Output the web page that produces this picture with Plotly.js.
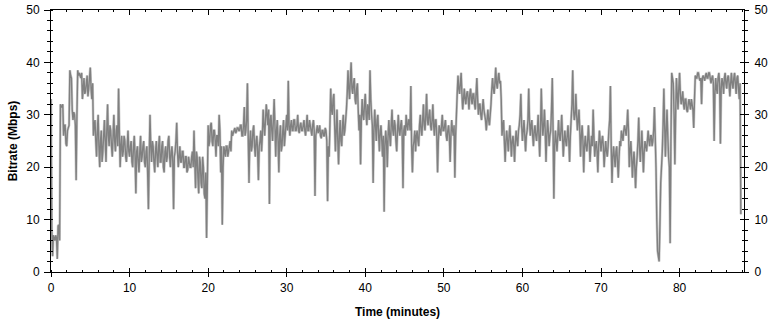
<!DOCTYPE html>
<html>
<head>
<meta charset="utf-8">
<script src="https://cdn.plot.ly/plotly-3.0.1.min.js"></script>
<style>html,body{margin:0;padding:0;background:#fff;}#chart{width:773px;height:320px;}</style>
</head>
<body>
<div id="chart"></div>
<script>
// Sampling interval of the series (minutes)
const sampleStepMin = 0.1;

// Bitrate readings (Mbps), one every 0.1 minute (one line per minute)
const bitrateMbps = [
  33, 8, 3, 7, 6.5, 6, 7, 6.5, 2.5, 8.8,
  9, 6, 32, 31.5, 31.5, 32, 26, 28, 28, 24.5,
  24, 27, 27.5, 28, 38.5, 37.5, 37, 31, 29, 30.5,
  30, 28, 17.5, 30, 38.5, 37.5, 38, 37.5, 37, 38,
  33, 35, 37, 34, 34.5, 36, 37.5, 33.5, 35, 37,
  39, 35, 33, 36, 26, 28, 29, 25, 22, 27,
  30, 24, 20, 25, 27, 21, 23, 26, 29, 25,
  21, 27, 32, 26, 24, 28, 27, 24, 22, 26,
  30, 25, 23, 27, 28, 24, 35, 27, 20, 24,
  26, 22, 23, 26, 25, 22, 21, 24, 27, 23,
  22, 24, 25, 21, 20, 24, 26, 22, 15, 23,
  24, 21, 19, 23, 26, 21, 22, 24, 25, 21,
  20, 23, 24, 19, 12, 22, 30, 24, 21, 25,
  24, 21, 19, 23, 25, 22, 20, 24, 26, 21,
  21, 24, 25, 20, 19, 23, 24, 21, 22, 25,
  26, 22, 20, 23, 24, 21, 12, 22, 23, 25,
  28.5, 23, 20, 22, 24, 21, 21, 23, 23, 20,
  20, 22, 22, 19, 19.5, 22, 21, 20, 20, 22,
  23, 20, 27, 21, 16, 23, 22, 18, 15, 22,
  21, 17, 16, 22, 20, 15, 14, 19, 6.5, 17,
  28, 24, 25, 28, 28.5, 25, 24, 27, 27, 25,
  22, 26, 26, 24, 30, 27, 19, 24, 9, 20,
  24, 23, 22, 24, 24, 22, 23, 24, 25, 23,
  27, 26, 26.5, 27, 27.5, 26.5, 26.8, 27.5, 27.5, 27,
  27, 28, 28, 26, 26, 28, 31.5, 26, 27, 29,
  36, 26, 17, 25, 27, 23, 24, 27, 28, 24,
  22, 25, 26, 23, 17.5, 24, 25, 27, 23, 26,
  31, 28, 26, 29, 32, 30, 28, 31, 13, 29,
  30, 27, 25, 29, 33, 28, 22, 27, 29, 25,
  19, 26, 28, 23, 24, 27, 29, 24, 26, 28,
  30, 27, 36.5, 28, 26, 28, 29, 27, 27, 29,
  29, 27, 27, 28, 30, 27, 26.5, 28, 28.5, 27,
  27, 28, 29, 27, 26, 28, 30, 27, 27, 29,
  28, 27, 26, 28, 29, 27, 14.5, 26, 27, 28,
  26.5, 27, 28, 26, 25.5, 27, 27, 26, 26, 27.5,
  27, 25, 13.5, 24, 22, 28, 35, 31, 30, 33,
  34, 28, 23, 27, 31, 25, 20.5, 26, 29, 25,
  24, 28, 30, 26, 27, 29, 31, 34, 38.5, 35,
  33, 37, 40, 35, 34, 36, 37, 33, 32, 35,
  36, 31, 27, 30, 20.5, 29, 33, 30, 29, 32,
  34, 30, 28, 32, 31, 29, 38.5, 33, 30, 28,
  17, 27, 31, 28, 25, 29, 30, 26, 23, 27,
  28, 25, 22, 26, 11.5, 24, 27, 25, 20, 26,
  29, 26, 24, 28, 31, 27, 26, 29, 28, 25,
  23, 27, 30, 27, 26, 28, 29, 26, 16, 27,
  28, 26, 30, 28, 27, 29, 29, 27, 35.5, 24,
  19, 24, 25, 27, 23, 26, 27, 25, 24, 28,
  30, 27, 26, 29, 32, 28, 27, 30, 34, 29,
  28, 30, 31, 28, 27, 29, 32, 28, 26, 29,
  29, 26, 19, 25, 28, 27, 26, 28, 30, 27,
  27, 28, 29, 26, 25, 27, 28, 26, 21, 26,
  29, 27, 26, 28, 18, 26, 30, 34, 37.5, 35,
  34, 36, 38, 34, 31, 33, 35, 33, 32, 34,
  34.5, 33, 31, 34, 35, 33, 32, 34, 34, 32,
  31, 34, 37, 33, 30, 32, 32, 30, 29, 31,
  33, 31, 30, 29, 27, 29, 31, 29, 28, 30,
  32, 35, 37, 35, 34, 36, 39, 36, 35, 37,
  38, 36, 36.5, 33, 26, 28, 29, 25, 21, 25,
  27, 25, 23, 26, 28, 25, 22, 25, 26, 24,
  21, 25, 27, 25, 24, 27, 28, 30, 34, 28,
  25, 27, 29, 26, 23, 26, 27, 29, 35, 29,
  26, 28, 29, 26, 24, 27, 28, 26, 25, 27,
  30, 26, 22, 27, 35, 29, 26, 28, 31, 27,
  21, 26, 29, 27, 24, 26, 27, 31, 37, 27,
  14, 24, 27, 25, 23, 26, 29, 26, 25, 27,
  30, 26, 22, 25, 27, 25, 24, 26, 28, 25,
  21, 26, 29, 32, 38.5, 31, 29, 30, 34, 30,
  27, 29, 31, 27, 22, 26, 28, 25, 19, 24,
  26, 24, 23, 25, 28, 25, 21, 24, 26, 24,
  31, 26, 22, 24, 25, 23, 19, 24, 27, 25,
  23, 25, 26, 24, 20, 23, 25, 23, 22, 24,
  27, 29, 35.5, 24, 17, 22, 24, 22, 20, 23,
  24, 21, 18, 22, 25, 24, 27, 26, 25, 27,
  28, 27, 26, 28, 31, 27, 20, 23, 25, 22,
  18, 21, 23, 20, 16, 20, 22, 25, 29.5, 24,
  21, 24, 27, 23, 19, 23, 25, 24, 23, 25,
  27, 25, 24, 26, 26, 24, 25, 27, 31.5, 26,
  20, 10, 4, 3, 2, 9, 17, 20, 23, 28,
  35, 28, 22, 27, 31, 26, 22, 20, 5.5, 25,
  38, 37, 36, 30, 20.5, 30, 37, 34, 31, 35,
  38, 34, 32, 33, 34.5, 32, 31, 33, 33, 31,
  30.5, 32, 33, 32, 31, 33, 32, 31, 27.5, 33,
  37.5, 37, 37, 38, 38, 37, 36.5, 37, 32, 37,
  37.5, 37, 36.5, 37.5, 38, 37, 37, 38, 38, 37,
  36, 37, 37.5, 36, 25, 34, 37, 35, 34, 37,
  38, 36, 24.5, 35, 37, 36, 34, 37, 38, 36,
  35, 37, 37.5, 36, 33.5, 36, 38, 36, 35, 37,
  38, 36, 34, 37, 37.5, 35, 33, 36, 11
];

const timeMin = bitrateMbps.map((_, i) => +(i * sampleStepMin).toFixed(1));

// Axis ticks
const xTickVals = [0, 10, 20, 30, 40, 50, 60, 70, 80];
const yTickVals = [0, 10, 20, 30, 40, 50];
const xRange = [0, 88.2];
const yRange = [0, 50];

const halo = {
  x: timeMin, y: bitrateMbps, type: 'scatter', mode: 'lines',
  line: {color: '#cccccc', width: 2.6, simplify: false}, hoverinfo: 'skip',
  xaxis: 'x', yaxis: 'y'
};
const main = {
  x: timeMin, y: bitrateMbps, type: 'scatter', mode: 'lines',
  line: {color: '#808080', width: 1.4, simplify: false},
  xaxis: 'x2', yaxis: 'y2'
};
// empty helper traces so that the tick-only overlay axes are drawn
const tickHelperA = {x: [], y: [], type: 'scatter', mode: 'lines', xaxis: 'x3', yaxis: 'y3', hoverinfo: 'skip'};
const tickHelperB = {x: [], y: [], type: 'scatter', mode: 'lines', xaxis: 'x3', yaxis: 'y4', hoverinfo: 'skip'};

const tickFont = {family: 'Arial, "Liberation Sans", sans-serif', size: 12, color: '#000'};
const axisBase = {
  showline: true, linecolor: '#000', linewidth: 1, mirror: false,
  showgrid: false, zeroline: false, tickcolor: '#000', tickwidth: 1,
  tickfont: tickFont
};
const overlayBase = {
  showline: false, showgrid: false, zeroline: false, tickcolor: '#000', tickwidth: 1,
  showticklabels: false
};

const layout = {
  width: 773, height: 320,
  margin: {l: 51, r: 29, t: 10, b: 48, pad: 0},
  paper_bgcolor: '#fff', plot_bgcolor: 'rgba(0,0,0,0)',
  showlegend: false,
  font: tickFont,
  xaxis: Object.assign({}, axisBase, {
    range: xRange, tickmode: 'array', tickvals: xTickVals,
    ticks: 'outside', ticklen: 4, ticklabelstandoff: 1,
    minor: {dtick: 2, tick0: 0, ticks: 'inside', ticklen: 2, tickcolor: '#000', showgrid: false},
    title: {text: '<b>Time (minutes)</b>', font: {size: 12, color: '#000'}, standoff: 13},
    anchor: 'y', side: 'bottom'
  }),
  yaxis: Object.assign({}, axisBase, {
    range: yRange, tickmode: 'array', tickvals: yTickVals,
    ticks: 'outside', ticklen: 6, ticklabelstandoff: 2,
    minor: {dtick: 2, tick0: 0, ticks: 'outside', ticklen: 3, tickcolor: '#000', showgrid: false},
    title: {text: '<b>Bitrate (Mbps)</b>', font: {size: 12, color: '#000'}, standoff: 6},
    anchor: 'x', side: 'left'
  }),
  xaxis2: Object.assign({}, axisBase, {
    range: xRange, tickmode: 'array', tickvals: xTickVals,
    ticks: 'inside', ticklen: 5, showticklabels: false,
    minor: {dtick: 2, tick0: 0, ticks: 'inside', ticklen: 2, tickcolor: '#000', showgrid: false},
    overlaying: 'x', side: 'top', anchor: 'y2'
  }),
  yaxis2: Object.assign({}, axisBase, {
    range: yRange, tickmode: 'array', tickvals: yTickVals,
    ticks: 'outside', ticklen: 4, showticklabels: true, ticklabelstandoff: 3,
    minor: {dtick: 2, tick0: 0, ticks: 'outside', ticklen: 3, tickcolor: '#000', showgrid: false},
    overlaying: 'y', side: 'right', anchor: 'x2'
  }),
  xaxis3: Object.assign({}, overlayBase, {
    range: xRange, tickmode: 'array', tickvals: xTickVals,
    ticks: 'inside', ticklen: 4,
    overlaying: 'x', side: 'bottom', anchor: 'y3'
  }),
  yaxis3: Object.assign({}, overlayBase, {
    range: yRange, tickmode: 'array', tickvals: yTickVals,
    ticks: '',
    minor: {dtick: 2, tick0: 0, ticks: 'inside', ticklen: 2, tickcolor: '#000', showgrid: false},
    overlaying: 'y', side: 'left', anchor: 'x3'
  }),
  yaxis4: Object.assign({}, overlayBase, {
    range: yRange, tickmode: 'array', tickvals: yTickVals,
    ticks: 'inside', ticklen: 4,
    minor: {dtick: 2, tick0: 0, ticks: 'inside', ticklen: 2, tickcolor: '#000', showgrid: false},
    overlaying: 'y', side: 'right', anchor: 'x3'
  })
};

Plotly.newPlot('chart', [halo, main, tickHelperA, tickHelperB], layout, {staticPlot: true, displayModeBar: false});
</script>
</body>
</html>
